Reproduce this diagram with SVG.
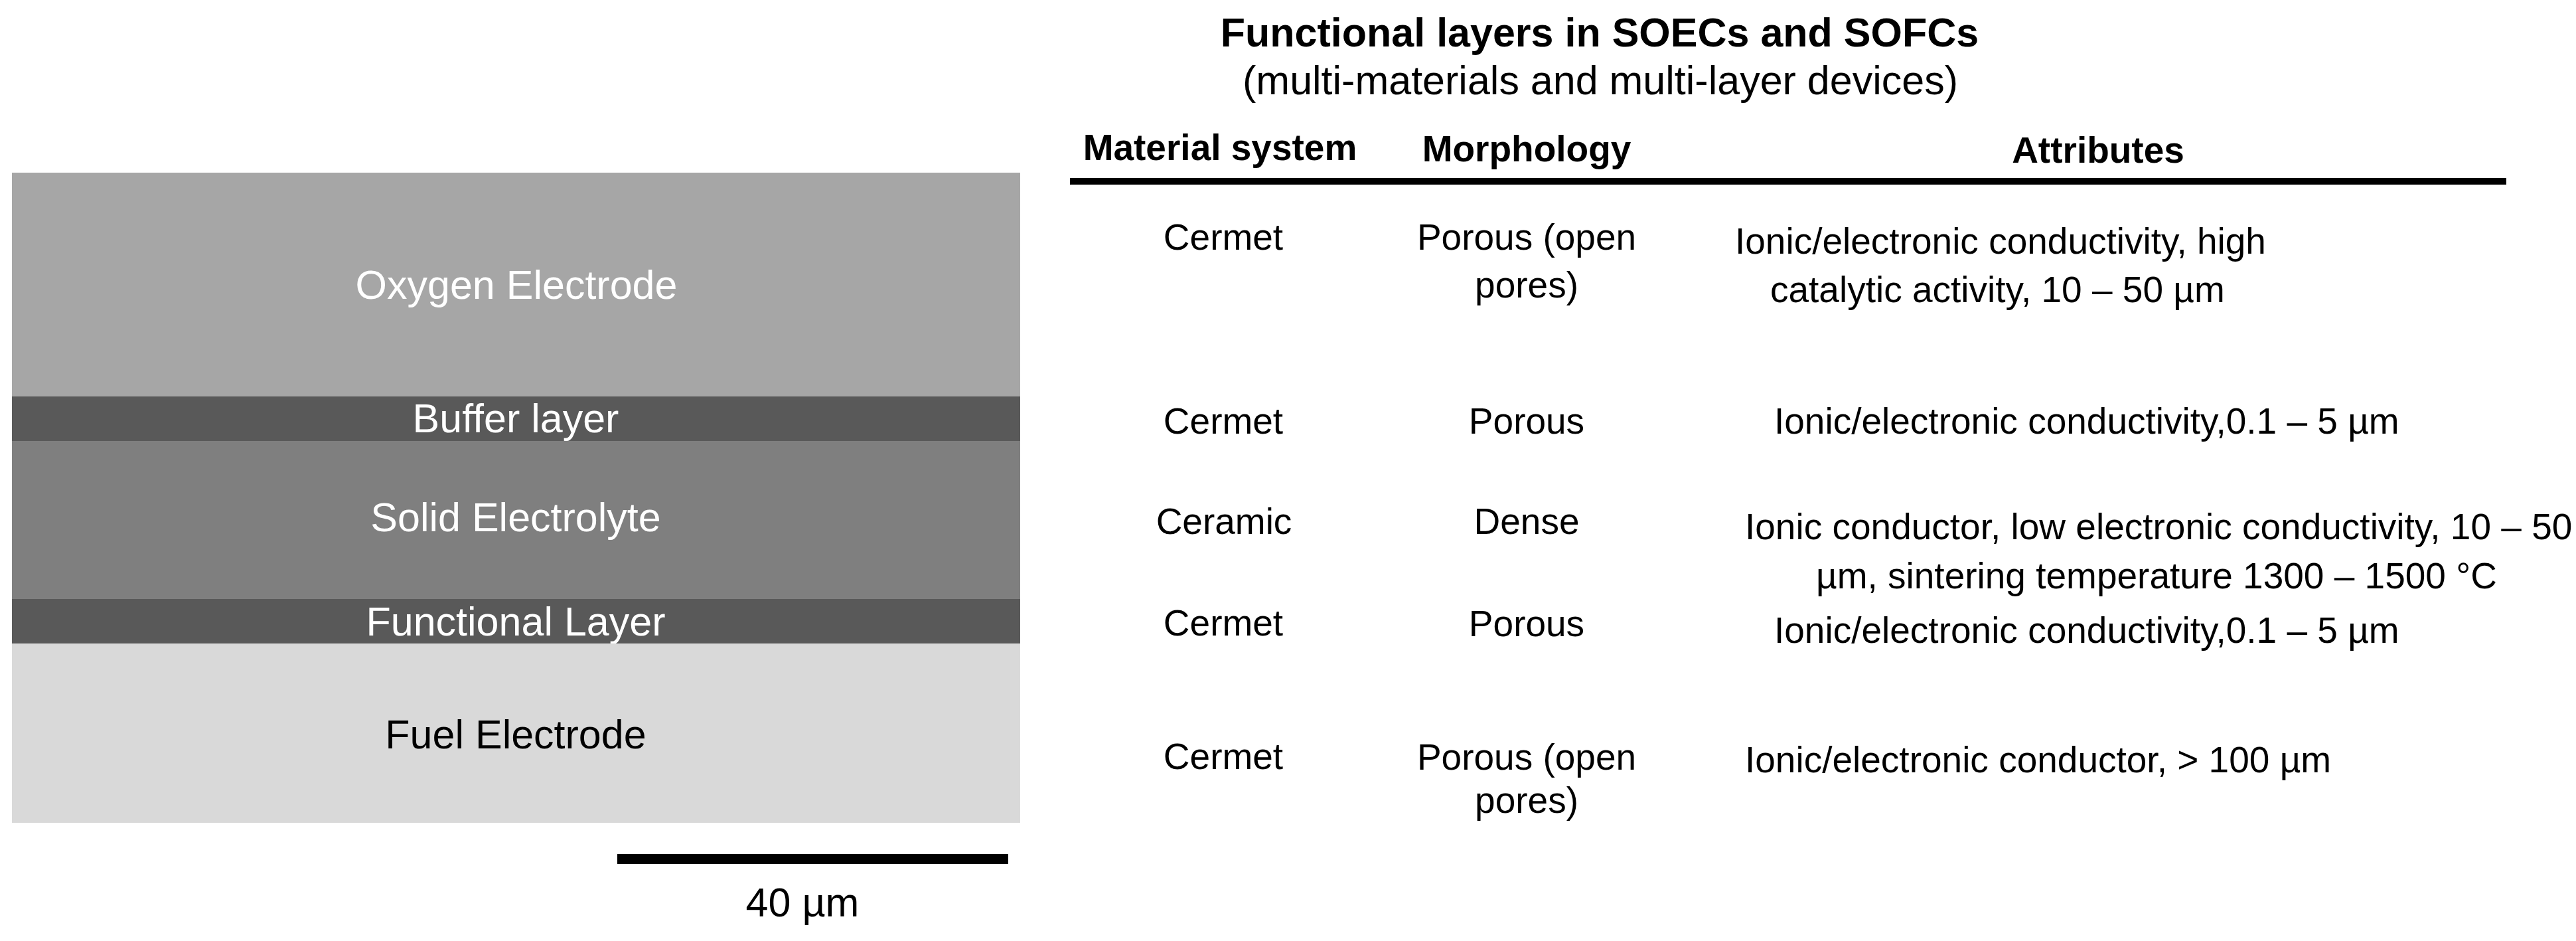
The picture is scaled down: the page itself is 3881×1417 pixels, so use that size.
<svg xmlns="http://www.w3.org/2000/svg" width="3881" height="1417" viewBox="0 0 3881 1417">
<style>
text { font-family: "Liberation Sans", Arial, sans-serif; }
.lbl { font-size: 61px; text-anchor: middle; }
.light { fill: #ffffff; }
.dark { fill: #000000; }
.title { font-size: 61px; font-weight: bold; text-anchor: middle; fill: #000; }
.sub { font-size: 61px; text-anchor: middle; fill: #000; }
.hdr { font-size: 55px; font-weight: bold; text-anchor: middle; fill: #000; }
.cell { font-size: 55px; text-anchor: middle; fill: #000; }
.attr { font-size: 55px; text-anchor: start; fill: #000; }
</style>
<rect x="0" y="0" width="3881" height="1417" fill="#ffffff"/>
<g id="stack">
  <g id="oxygen-electrode">
    <rect x="18" y="260" width="1519" height="337" fill="#a6a6a6"/>
    <text class="lbl light" x="778" y="450">Oxygen Electrode</text>
  </g>
  <g id="buffer-layer">
    <rect x="18" y="597" width="1519" height="67" fill="#595959"/>
    <text class="lbl light" x="777" y="651">Buffer layer</text>
  </g>
  <g id="solid-electrolyte">
    <rect x="18" y="664" width="1519" height="238" fill="#7f7f7f"/>
    <text class="lbl light" x="777" y="800">Solid Electrolyte</text>
  </g>
  <g id="functional-layer">
    <rect x="18" y="902" width="1519" height="67" fill="#595959"/>
    <text class="lbl light" x="777" y="957">Functional Layer</text>
  </g>
  <g id="fuel-electrode">
    <rect x="18" y="969" width="1519" height="270" fill="#d9d9d9"/>
    <text class="lbl dark" x="777" y="1127">Fuel Electrode</text>
  </g>
</g>
<g id="scale-bar">
  <rect x="930" y="1286" width="589" height="15" fill="#000"/>
  <text class="lbl dark" x="1209" y="1380">40 µm</text>
</g>
<g id="table">
  <g id="table-title">
    <text class="title" x="2410" y="70">Functional layers in SOECs and SOFCs</text>
    <text class="sub" x="2411" y="142">(multi-materials and multi-layer devices)</text>
  </g>
  <g id="table-header">
    <text class="hdr" x="1838" y="241">Material system</text>
    <text class="hdr" x="2300" y="243">Morphology</text>
    <text class="hdr" x="3161" y="245">Attributes</text>
    <rect x="1612" y="268" width="2164" height="10" fill="#000"/>
  </g>
  <g id="row-oxygen">
    <text class="cell" x="1843" y="376">Cermet</text>
    <text class="cell" x="2300" y="376">Porous (open</text>
    <text class="cell" x="2300" y="448">pores)</text>
    <text class="attr" x="2614" y="382">Ionic/electronic conductivity, high</text>
    <text class="attr" x="2667" y="455">catalytic activity, 10 – 50 µm</text>
  </g>
  <g id="row-buffer">
    <text class="cell" x="1843" y="653">Cermet</text>
    <text class="cell" x="2300" y="653">Porous</text>
    <text class="attr" x="2673" y="653">Ionic/electronic conductivity,0.1 – 5 µm</text>
  </g>
  <g id="row-electrolyte">
    <text class="cell" x="1844" y="804">Ceramic</text>
    <text class="cell" x="2300" y="804">Dense</text>
    <text class="attr" x="2629" y="812">Ionic conductor, low electronic conductivity, 10 – 50</text>
    <text class="attr" x="2736" y="886">µm, sintering temperature 1300 – 1500 °C</text>
  </g>
  <g id="row-functional">
    <text class="cell" x="1843" y="957">Cermet</text>
    <text class="cell" x="2300" y="958">Porous</text>
    <text class="attr" x="2673" y="968">Ionic/electronic conductivity,0.1 – 5 µm</text>
  </g>
  <g id="row-fuel">
    <text class="cell" x="1843" y="1158">Cermet</text>
    <text class="cell" x="2300" y="1159">Porous (open</text>
    <text class="cell" x="2300" y="1224">pores)</text>
    <text class="attr" x="2629" y="1163">Ionic/electronic conductor, &gt; 100 µm</text>
  </g>
</g>
</svg>
